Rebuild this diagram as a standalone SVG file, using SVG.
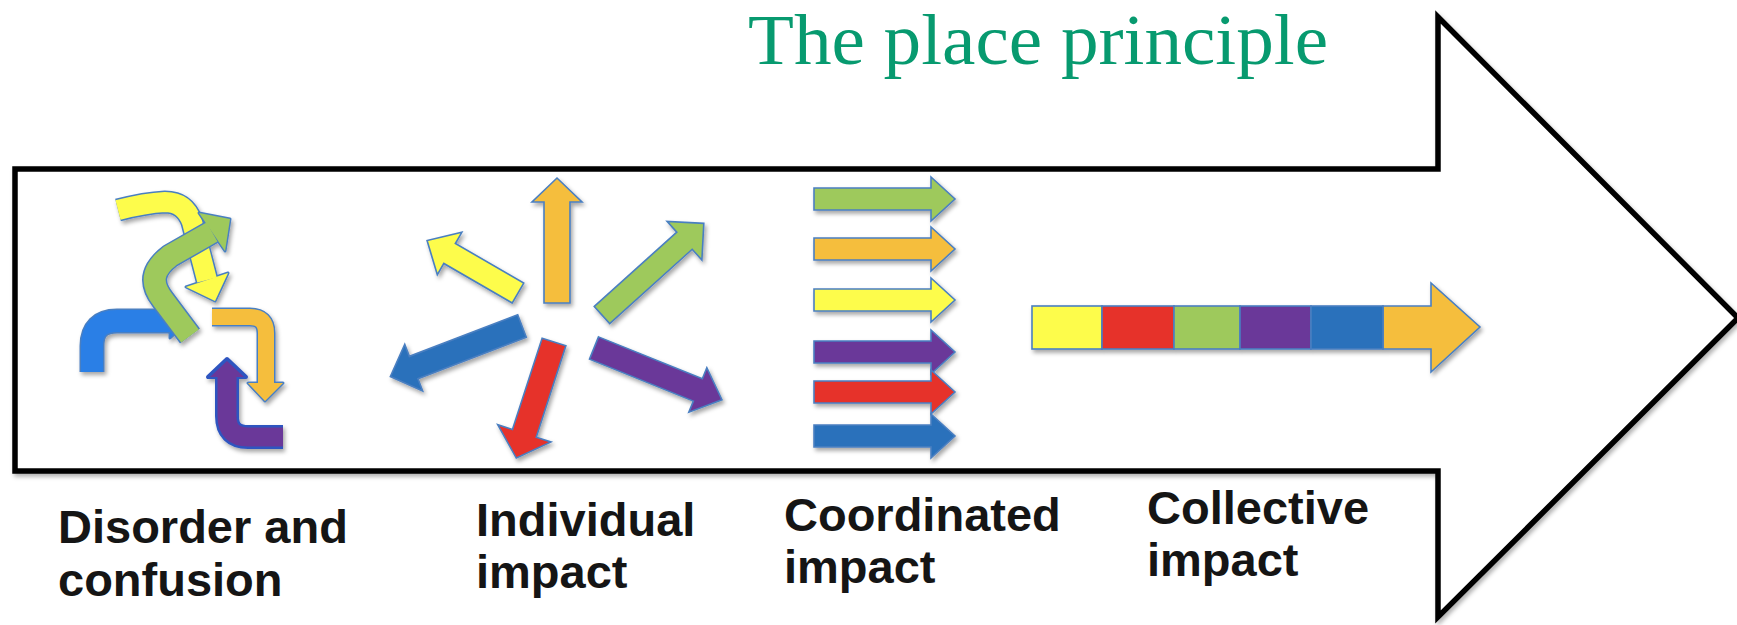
<svg xmlns="http://www.w3.org/2000/svg" width="1737" height="625" viewBox="0 0 1737 625">
<defs>
<style>
.lbl{font-family:"Liberation Sans",Arial,sans-serif;font-weight:bold;font-size:47px;fill:#151515}
.title{font-family:"Liberation Serif","Times New Roman",serif;font-size:71px;fill:#079a6f}
.ol{fill:none;stroke:#4a7fc1;stroke-linejoin:round}
.sa{stroke:#4a7fc1;stroke-width:1.6;stroke-linejoin:miter}
.y{fill:#fdfc4c}.g{fill:#9ec95c}.o{fill:#f5be3e}.p{fill:#6a3899}.r{fill:#e6302a}.b{fill:#2c71bb}.bb{fill:#2b7fe6}
</style>
<filter id="sh" x="-30%" y="-30%" width="160%" height="160%">
<feDropShadow dx="2" dy="3" stdDeviation="2" flood-color="#000" flood-opacity="0.35"/>
</filter>
<filter id="sh2" x="-5%" y="-5%" width="110%" height="110%">
<feDropShadow dx="2" dy="3" stdDeviation="2" flood-color="#000" flood-opacity="0.3"/>
</filter>
<path id="ra" d="M0,-11 H117 V-22 L141,0 L117,22 V11 H0 Z"/>
</defs>
<rect width="1737" height="625" fill="#fff"/>

<g id="big-arrow" filter="url(#sh2)">
<polygon points="15,169 1438,169 1438,17 1738,318 1438,617 1438,471 15,471" fill="#fff" stroke="#000" stroke-width="5.5" stroke-linejoin="miter"/>
</g>

<g id="title">
<text class="title" x="748" y="64" textLength="580" lengthAdjust="spacingAndGlyphs">The place principle</text>
</g>

<g id="stage-disorder">
<g filter="url(#sh)">
<g>
<path class="ol" d="M118,210 Q145,203 165,202 Q185,202 192,222 L207,280" stroke-width="23"/>
<polygon class="ol" points="228,273 215,301 186,287" stroke-width="3" fill="#4a7fc1"/>
<path d="M118,210 Q145,203 165,202 Q185,202 192,222 L207,280" fill="none" stroke="#fdfc4c" stroke-width="20"/>
<polygon class="y" points="228,273 215,301 186,287"/>
</g>
<g>
<path class="ol" d="M92,372 V346 Q92,321 117,321 H171" stroke-width="25"/>
<polygon class="ol" points="170,304 189,321 170,338" stroke-width="3" fill="#4a7fc1"/>
<path d="M92,372 V346 Q92,321 117,321 H171" fill="none" stroke="#2b7fe6" stroke-width="22"/>
<polygon class="bb" points="170,304 189,321 170,338"/>
</g>
<g>
<path class="ol" d="M190,336 L163,300 C150,283 152,270 170,256 L212,232" stroke-width="25"/>
<polygon class="ol" points="199,213 230,219 225,251" stroke-width="3" fill="#4a7fc1"/>
<path d="M190,336 L163,300 C150,283 152,270 170,256 L212,232" fill="none" stroke="#9ec95c" stroke-width="22"/>
<polygon class="g" points="199,213 230,219 225,251"/>
</g>
<g>
<path class="ol" d="M212,317 H250 Q266,317 266,333 V384" stroke-width="19"/>
<polygon class="ol" points="248,383 283,383 265,401" stroke-width="3" fill="#4a7fc1"/>
<path d="M212,317 H250 Q266,317 266,333 V384" fill="none" stroke="#f5be3e" stroke-width="16"/>
<polygon class="o" points="248,383 283,383 265,401"/>
</g>
<g>
<path d="M283,437 H248 Q227,437 227,416 V376" fill="none" stroke="#2f55c0" stroke-width="24"/>
<polygon points="208,377 246,377 227,359" fill="#2f55c0" stroke="#2f55c0" stroke-width="4" stroke-linejoin="round"/>
<path d="M283,437 H248 Q227,437 227,416 V377" fill="none" stroke="#6a3899" stroke-width="19"/>
<polygon class="p" points="210,377 244,377 227,361"/>
</g>
</g>
<text class="lbl" x="58" y="543">Disorder and</text>
<text class="lbl" x="58" y="596">confusion</text>
</g>

<g id="stage-individual">
<g filter="url(#sh)">
<path class="sa o" transform="translate(557,303) rotate(-90)" d="M0,-13 H101 V-25 L125,0 L101,25 V13 H0 Z"/>
<path class="sa g" transform="translate(602,315) rotate(-42)" d="M0,-11.5 H111 V-26 L137,0 L111,26 V11.5 H0 Z"/>
<path class="sa y" transform="translate(518,293) rotate(-150)" d="M0,-11.5 H79 V-24.5 L105,0 L79,24.5 V11.5 H0 Z"/>
<path class="sa b" transform="translate(522,326) rotate(159)" d="M0,-12 H116 V-25 L141,0 L116,25 V12 H0 Z"/>
<path class="sa r" transform="translate(554,342) rotate(108)" d="M0,-12.5 H96 V-28 L122,0 L96,28 V12.5 H0 Z"/>
<path class="sa p" transform="translate(594,348) rotate(22)" d="M0,-12 H112 V-24 L138,0 L112,24 V12 H0 Z"/>
</g>
<text class="lbl" x="476" y="536">Individual</text>
<text class="lbl" x="476" y="588">impact</text>
</g>

<g id="stage-coordinated">
<g filter="url(#sh)">
<use href="#ra" class="sa g" transform="translate(814,199)"/>
<use href="#ra" class="sa o" transform="translate(814,249)"/>
<use href="#ra" class="sa y" transform="translate(814,300)"/>
<use href="#ra" class="sa p" transform="translate(814,352)"/>
<use href="#ra" class="sa r" transform="translate(814,392)"/>
<use href="#ra" class="sa b" transform="translate(814,436)"/>
</g>
<text class="lbl" x="784" y="531">Coordinated</text>
<text class="lbl" x="784" y="583">impact</text>
</g>

<g id="stage-collective">
<g filter="url(#sh)">
<polygon class="sa o" points="1383,306 1431,306 1431,283 1480,327 1431,372 1431,349 1383,349"/>
<rect class="sa y" x="1032" y="306" width="70" height="43"/>
<rect class="sa r" x="1102" y="306" width="72" height="43"/>
<rect class="sa g" x="1174" y="306" width="66" height="43"/>
<rect class="sa p" x="1240" y="306" width="71" height="43"/>
<rect class="sa b" x="1311" y="306" width="72" height="43"/>
</g>
<text class="lbl" x="1147" y="524">Collective</text>
<text class="lbl" x="1147" y="576">impact</text>
</g>
</svg>
